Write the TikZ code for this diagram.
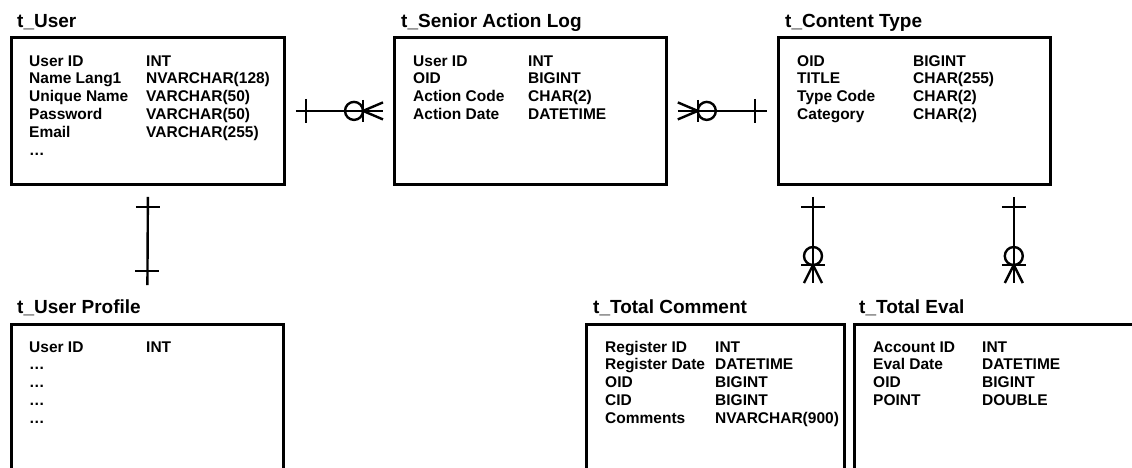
\documentclass[tikz,border=0pt]{standalone}
\usepackage{fontspec}
\setmainfont{Liberation Sans}
\usetikzlibrary{calc}
\begin{document}
\begin{tikzpicture}[x=1pt,y=-1pt,
  tbl/.style={draw, line width=2.8pt, rectangle, inner sep=0pt, anchor=north west},
  ttl/.style={anchor=base west, inner sep=0pt, font=\fontsize{19}{22}\selectfont\bfseries},
  fld/.style={anchor=base west, inner sep=0pt, font=\fontsize{15.5}{17.8}\selectfont\bfseries},
  conn/.style={line width=2.4pt}]
\useasboundingbox (0,0) rectangle (1132,467);
\clip (0,0) rectangle (1132,467);

% boxes
\node[tbl, minimum width=273pt, minimum height=147pt] (user) at (10,36) {};
\node[tbl, minimum width=272pt, minimum height=147pt] (senior) at (393,36) {};
\node[tbl, minimum width=272pt, minimum height=147pt] (content) at (777,36) {};
\node[tbl, minimum width=272pt, minimum height=200pt] (profile) at (10,323) {};
\node[tbl, minimum width=258pt, minimum height=200pt] (comm) at (585,323) {};
\node[tbl, minimum width=300pt, minimum height=200pt] (eval) at (853,323) {};

% titles
\node[ttl] (userT) at (17,27) {t\_User};
\node[ttl] (seniorT) at (401,27) {t\_Senior Action Log};
\node[ttl] (contentT) at (785,27) {t\_Content Type};
\node[ttl] (profileT) at (17,313) {t\_User Profile};
\node[ttl] (commT) at (593,313) {t\_Total Comment};
\node[ttl] (evalT) at (859,313) {t\_Total Eval};

% fields
\node[fld] (userF) at (29,66) {\begin{tabular}[t]{@{}p{117pt}@{}l@{}}
User ID & INT\\ Name Lang1 & NVARCHAR(128)\\ Unique Name & VARCHAR(50)\\
Password & VARCHAR(50)\\ Email & VARCHAR(255)\\ … & \end{tabular}};
\node[fld] (seniorF) at (413,66) {\begin{tabular}[t]{@{}p{115pt}@{}l@{}}
User ID & INT\\ OID & BIGINT\\ Action Code & CHAR(2)\\ Action Date & DATETIME\end{tabular}};
\node[fld] (contentF) at (797,66) {\begin{tabular}[t]{@{}p{116pt}@{}l@{}}
OID & BIGINT\\ TITLE & CHAR(255)\\ Type Code & CHAR(2)\\ Category & CHAR(2)\end{tabular}};
\node[fld] (profileF) at (29,352) {\begin{tabular}[t]{@{}p{117pt}@{}l@{}}
User ID & INT\\ … & \\ … & \\ … & \\ … & \end{tabular}};
\node[fld] (commF) at (605,352) {\begin{tabular}[t]{@{}p{110pt}@{}l@{}}
Register ID & INT\\ Register Date & DATETIME\\ OID & BIGINT\\ CID & BIGINT\\
Comments & NVARCHAR(900)\end{tabular}};
\node[fld] (evalF) at (873,352) {\begin{tabular}[t]{@{}p{109pt}@{}l@{}}
Account ID & INT\\ Eval Date & DATETIME\\ OID & BIGINT\\ POINT & DOUBLE\end{tabular}};

% connector user -> senior (one to zero-or-many)
\coordinate (c1s) at ($(user.east)+(10,0)$);
\coordinate (c1e) at ($(senior.west)+(-10,0)$);
\draw[conn] (c1s) -- (c1e);
\draw[conn] ($(c1s)+(10,-12)$) -- ($(c1s)+(10,12)$);
\draw[conn] ($(c1e)+(-20,-11)$) -- ($(c1e)+(-20,11)$);
\draw[conn] ($(c1e)+(-29,0)$) circle[radius=9pt];
\draw[conn] ($(c1e)+(0,-8.5)$) -- ($(c1e)+(-20,0)$) -- ($(c1e)+(0,8.5)$);

% connector senior -> content
\coordinate (c2s) at ($(senior.east)+(10,0)$);
\coordinate (c2e) at ($(content.west)+(-10,0)$);
\draw[conn] (c2s) -- (c2e);
\draw[conn] ($(c2s)+(0,-8.5)$) -- ($(c2s)+(20,0)$) -- ($(c2s)+(0,8.5)$);
\draw[conn] ($(c2s)+(20,-11)$) -- ($(c2s)+(20,11)$);
\draw[conn] ($(c2s)+(29,0)$) circle[radius=9pt];
\draw[conn] ($(c2e)+(-12,-12)$) -- ($(c2e)+(-12,12)$);

% connector user -> profile (one to one)
\coordinate (c3s) at ($(user.south)+(0,11)$);
\coordinate (c3e) at ($(profile.north)+(0,-38)$);
\draw[conn] (c3s) -- (c3e);
\draw[conn] ($(c3s)+(-12,10)$) -- ($(c3s)+(12,10)$);
\draw[conn] ($(c3e)+(-12,-14)$) -- ($(c3e)+(12,-14)$);

% connectors content -> comment / eval
\coordinate (c4s) at ($(content.south west)+(36,11)$);
\coordinate (c4e) at ($(c4s |- comm.north)+(0,-40)$);
\coordinate (c5s) at ($(content.south east)+(-38,11)$);
\coordinate (c5e) at ($(c5s |- eval.north)+(0,-40)$);
\foreach \s/\e in {c4s/c4e, c5s/c5e} {
  \draw[conn] (\s) -- (\e);
  \draw[conn] ($(\s)+(-12,10)$) -- ($(\s)+(12,10)$);
  \draw[conn] ($(\e)+(-12,-18)$) -- ($(\e)+(12,-18)$);
  \draw[conn] ($(\e)+(0,-27)$) circle[radius=9pt];
  \draw[conn] ($(\e)+(-9,0)$) -- ($(\e)+(0,-18)$) -- ($(\e)+(9,0)$);
}
\end{tikzpicture}
\end{document}
